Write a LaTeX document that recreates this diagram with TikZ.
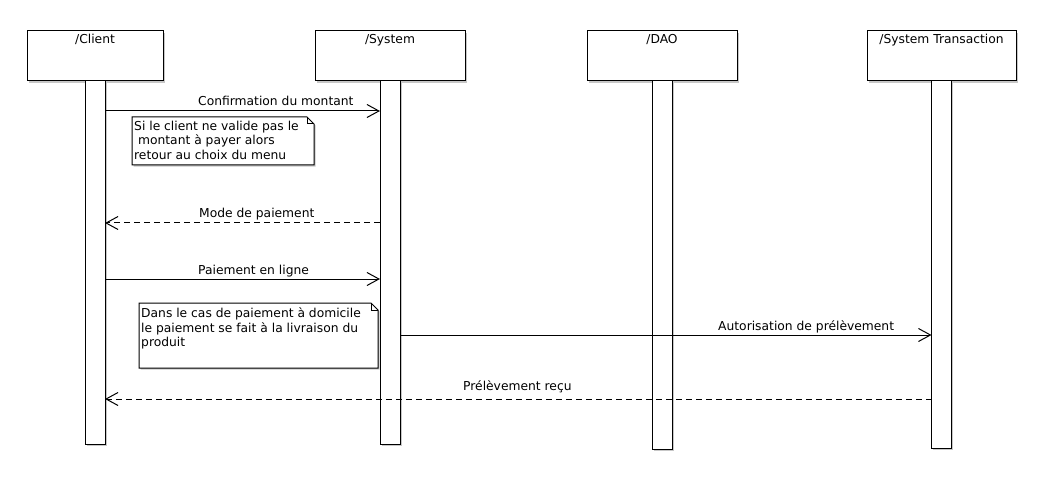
\documentclass[tikz,border=0pt]{standalone}
\usepackage{fontspec}
\setmainfont{DejaVu Sans}
\usetikzlibrary{arrows.meta,shadows}
\tikzset{
  shad/.style={general shadow={fill=black!22, shadow xshift=1.6pt, shadow yshift=-1.6pt}},
  lifebox/.style={draw, fill=white, line width=1pt, inner sep=0pt, outer sep=0pt, minimum height=50pt, shad},
  actbar/.style={draw, fill=white, line width=1pt, inner sep=0pt, outer sep=0pt, minimum width=20pt, anchor=north, shad},
  lbl/.style={inner sep=0pt, anchor=base, font=\fontsize{12.3}{14.5}\selectfont},
  msg/.style={line width=1pt, -{Straight Barb[length=12pt, width=13pt, line width=1pt]}},
  ret/.style={msg, dash pattern=on 6pt off 4pt},
  notetext/.style={inner sep=0pt, anchor=north west, align=left, font=\fontsize{12.3}{14.5}\selectfont},
  notebox/.style={line width=1pt, fill=white, general shadow={fill=black!22, shadow xshift=1.6pt, shadow yshift=-1.6pt}}
}
\begin{document}
\begin{tikzpicture}[x=1pt,y=-1pt]
\useasboundingbox[fill=white] (0,0) rectangle (1054,478);
% lifeline heads
\node[lifebox, minimum width=136pt] (client) at (95,56) {};
\node[lifebox, minimum width=150pt] (system) at (390,56) {};
\node[lifebox, minimum width=150pt] (dao) at (662,56) {};
\node[lifebox, minimum width=149pt] (trans) at (941.5,56) {};
\node[lbl] (clientT) at (95,44) {/Client};
\node[lbl] (systemT) at (390,44) {/System};
\node[lbl] (daoT) at (662,44) {/DAO};
\node[lbl] (transT) at (941.5,44) {/System Transaction};
% activation bars
\node[actbar, minimum height=363pt] (clientA) at (client.south) {};
\node[actbar, minimum height=363pt] (systemA) at (system.south) {};
\node[actbar, minimum height=368pt] (daoA) at (dao.south) {};
\node[actbar, minimum height=367pt] (transA) at (trans.south) {};
% messages
\draw[msg] (clientA.east |- 0,111) -- (systemA.west |- 0,111);
\node[lbl, anchor=base west] (m1) at (198,106) {Confirmation du montant};
% note 1
\draw[notebox] (132,117) -- (307,117) -- (314,124) -- (314,165) -- (132,165) -- cycle;
\draw[line width=1pt] (307,117) -- (307,124) -- (314,124);
\node[notetext] (n1) at (134,120.5) {Si le client ne valide pas le\\\ montant à payer alors\\retour au choix du menu};
\draw[ret] (systemA.west |- 0,223) -- (clientA.east |- 0,223);
\node[lbl, anchor=base west] (m2) at (199,218) {Mode de paiement};
\draw[msg] (clientA.east |- 0,279) -- (systemA.west |- 0,279);
\node[lbl, anchor=base west] (m3) at (198,274) {Paiement en ligne};
% note 2
\draw[notebox] (139,303) -- (371,303) -- (378,310) -- (378,368) -- (139,368) -- cycle;
\draw[line width=1pt] (371,303) -- (371,310) -- (378,310);
\node[notetext] (n2) at (141,307.5) {Dans le cas de paiement à domicile\\le paiement se fait à la livraison du\\produit};
\draw[msg] (systemA.east |- 0,335) -- (transA.west |- 0,335);
\node[lbl, anchor=base west] (m4) at (718,330) {Autorisation de prélèvement};
\draw[ret] (transA.west |- 0,399) -- (clientA.east |- 0,399);
\node[lbl, anchor=base west] (m5) at (463,390) {Prélèvement reçu};
\end{tikzpicture}
\end{document}
